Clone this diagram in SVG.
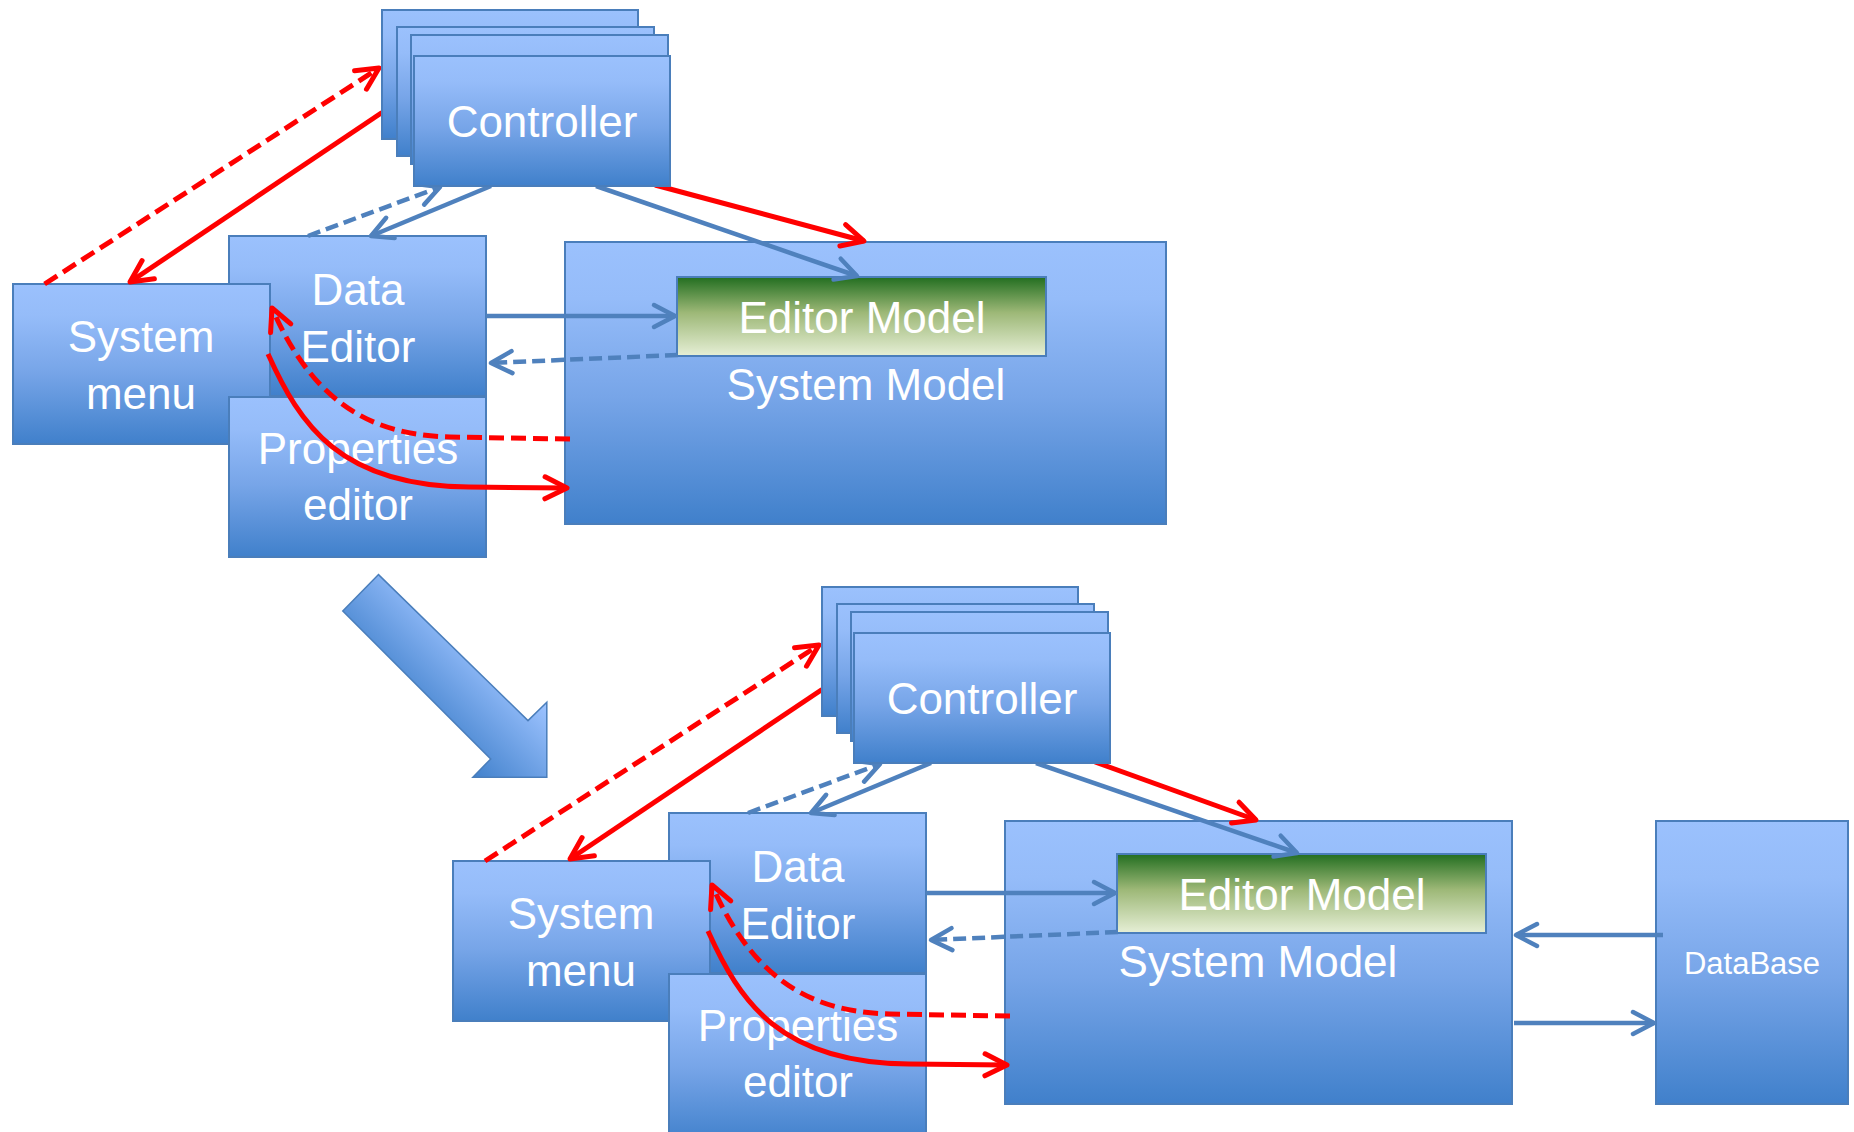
<svg xmlns="http://www.w3.org/2000/svg" width="1854" height="1132" viewBox="0 0 1854 1132">
<defs>
<style>
.node{fill:url(#gBlue);stroke:#4A7EBB;stroke-width:2}
.em{fill:url(#gGreen);stroke:#4A7EBB;stroke-width:2}
.lbl{font-family:"Liberation Sans",Arial,sans-serif;font-size:44px;fill:#FFFFFF;text-anchor:middle}
.db{font-size:31px}
.r{stroke:#FF0000;stroke-width:5;fill:none}
.b{stroke:#4F81BD;stroke-width:4.5;fill:none}
.r.dash{stroke-dasharray:15 7}
.b.dash{stroke-dasharray:13 6}
.r.arr{marker-end:url(#aR)}
.b.arr{marker-end:url(#aB)}
</style>
<linearGradient id="gBlue" x1="0" y1="0" x2="0" y2="1">
<stop offset="0" stop-color="#9BC1FD"/>
<stop offset="0.2" stop-color="#95BCF9"/>
<stop offset="0.55" stop-color="#77A5E8"/>
<stop offset="1" stop-color="#4080CB"/>
</linearGradient>
<linearGradient id="gGreen" x1="0" y1="0" x2="0" y2="1">
<stop offset="0" stop-color="#226E20"/>
<stop offset="0.45" stop-color="#9DB877"/>
<stop offset="1" stop-color="#E6EFD6"/>
</linearGradient>
<linearGradient id="gArrow" gradientUnits="userSpaceOnUse" x1="413" y1="719" x2="487" y2="645">
<stop offset="0" stop-color="#4080CB"/>
<stop offset="1" stop-color="#9DC3FF"/>
</linearGradient>
<marker id="aR" markerUnits="userSpaceOnUse" viewBox="-28 -16 32 32" markerWidth="32" markerHeight="32" refX="0" refY="0" orient="auto" overflow="visible">
<path d="M-22,-11 L0,0 L-22,11" fill="none" stroke="#FF0000" stroke-width="5" stroke-linecap="round" stroke-linejoin="round"/>
</marker>
<marker id="aB" markerUnits="userSpaceOnUse" viewBox="-28 -16 32 32" markerWidth="32" markerHeight="32" refX="0" refY="0" orient="auto" overflow="visible">
<path d="M-21,-11 L0,0 L-21,11" fill="none" stroke="#4F81BD" stroke-width="4.5" stroke-linecap="round" stroke-linejoin="round"/>
</marker>
</defs>
<rect width="1854" height="1132" fill="#FFFFFF"/>

<!-- Top diagram nodes -->
<g id="systemModel1">
<rect class="node" x="565" y="242" width="601" height="282"/>
<text class="lbl" x="866" y="400">System Model</text>
</g>
<g id="editorModel1">
<rect class="em" x="677" y="277" width="369" height="79"/>
<text class="lbl" x="862" y="333">Editor Model</text>
</g>
<g id="dataEditor1">
<rect class="node" x="229" y="236" width="257" height="160"/>
<text class="lbl" x="358" y="305">Data</text>
<text class="lbl" x="358" y="362">Editor</text>
</g>
<g id="systemMenu1">
<rect class="node" x="13" y="284" width="257" height="160"/>
<text class="lbl" x="141" y="352">System</text>
<text class="lbl" x="141" y="409">menu</text>
</g>
<g id="propertiesEditor1">
<rect class="node" x="229" y="397" width="257" height="160"/>
<text class="lbl" x="358" y="464">Properties</text>
<text class="lbl" x="358" y="520">editor</text>
</g>

<!-- Transition arrow -->
<g id="transitionArrow">
<polygon points="378.5,574.6 528,720.6 546.8,702.3 546.8,777.2 472.9,777.2 490.7,758.9 342.8,611.1" fill="url(#gArrow)" stroke="#4A7EBB" stroke-width="1.5"/>
</g>

<!-- Bottom diagram nodes -->
<g id="systemModel2">
<rect class="node" x="1005" y="821" width="507" height="283"/>
<text class="lbl" x="1258" y="977">System Model</text>
</g>
<g id="editorModel2">
<rect class="em" x="1117" y="854" width="369" height="79"/>
<text class="lbl" x="1302" y="910">Editor Model</text>
</g>
<g id="dataEditor2">
<rect class="node" x="669" y="813" width="257" height="160"/>
<text class="lbl" x="798" y="882">Data</text>
<text class="lbl" x="798" y="939">Editor</text>
</g>
<g id="systemMenu2">
<rect class="node" x="453" y="861" width="257" height="160"/>
<text class="lbl" x="581" y="929">System</text>
<text class="lbl" x="581" y="986">menu</text>
</g>
<g id="propertiesEditor2">
<rect class="node" x="669" y="974" width="257" height="170"/>
<text class="lbl" x="798" y="1041">Properties</text>
<text class="lbl" x="798" y="1097">editor</text>
</g>
<g id="dataBase">
<rect class="node" x="1656" y="821" width="192" height="283"/>
<text class="lbl db" x="1752" y="974">DataBase</text>
</g>

<!-- Connectors -->
<g id="connectors">
<path class="r dash arr" d="M44.6,284 L379,68"/>
<path class="r arr" d="M382,112.5 L130,282"/>
<path class="b dash arr" d="M308,236 L440,187"/>
<path class="b arr" d="M491,186 L371,236"/>
<path class="b arr" d="M596,186 L857,276"/>
<path class="r arr" d="M655,185 L864,241"/>
<path class="b arr" d="M486,316 L675,316"/>
<path class="b dash arr" d="M678,355 L491,363"/>
<path class="r dash arr" d="M570,439 L450,437 C385,435 318,415 272,308"/>
<path class="r arr" d="M268,354 C300,425 340,486 469,487 L567,488"/>

<path class="r dash arr" d="M485,861 L819,645"/>
<path class="r arr" d="M822,689.5 L570,859"/>
<path class="b dash arr" d="M748,813 L880,764"/>
<path class="b arr" d="M931,763 L811,813"/>
<path class="b arr" d="M1036,763 L1297,853"/>
<path class="r arr" d="M1095,762 L1256,820"/>
<path class="b arr" d="M926,893 L1115,893"/>
<path class="b dash arr" d="M1118,932 L931,940"/>
<path class="r dash arr" d="M1010,1016 L890,1014 C825,1012 758,992 712,885"/>
<path class="r arr" d="M708,931 C740,1002 780,1063 909,1064 L1007,1065"/>
<path class="b arr" d="M1663,935 L1516,935"/>
<path class="b arr" d="M1514,1023 L1654,1023"/>
</g>

<!-- Controllers (stacked) -->
<g id="controller1">
<rect class="node" x="382" y="10" width="256" height="129"/>
<rect class="node" x="397" y="27" width="257" height="129"/>
<rect class="node" x="411" y="35" width="257" height="129"/>
<rect class="node" x="414" y="56" width="256" height="130"/>
<text class="lbl" x="542" y="137">Controller</text>
</g>
<g id="controller2">
<rect class="node" x="822" y="587" width="256" height="129"/>
<rect class="node" x="837" y="604" width="257" height="129"/>
<rect class="node" x="851" y="612" width="257" height="129"/>
<rect class="node" x="854" y="633" width="256" height="130"/>
<text class="lbl" x="982" y="714">Controller</text>
</g>
</svg>
